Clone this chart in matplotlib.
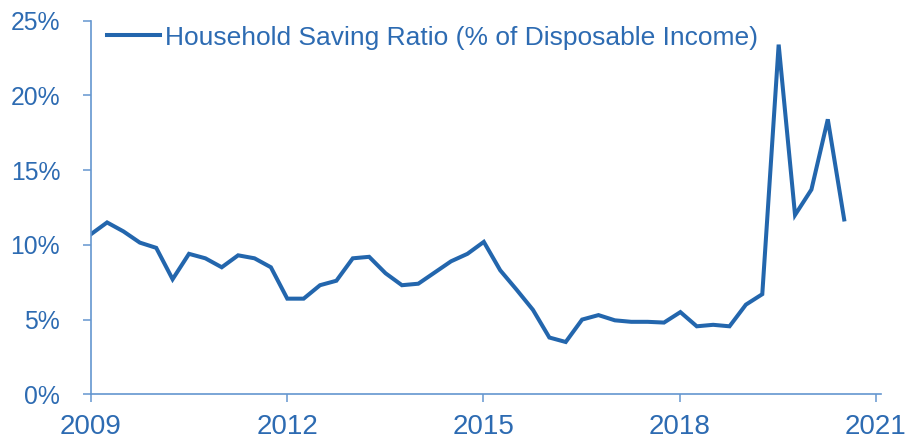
import matplotlib
matplotlib.use("Agg")
import matplotlib.pyplot as plt
import numpy as np

plt.rcParams['font.family'] = ['Liberation Sans', 'DejaVu Sans']

start_year = 2009.0
saving_ratio = [10.7, 11.5, 10.9, 10.15, 9.8, 7.7, 9.4, 9.1, 8.5, 9.3, 9.1, 8.5,
                6.4, 6.4, 7.3, 7.6, 9.1, 9.2, 8.1, 7.3, 7.4, 8.15, 8.9, 9.4,
                10.2, 8.3, 7.0, 5.65, 3.8, 3.5, 5.0, 5.3, 4.95, 4.85, 4.85, 4.8,
                5.5, 4.55, 4.65, 4.55, 6.0, 6.7, 23.4, 12.0, 13.7, 18.4, 11.7]
x_ticks = [2009, 2012, 2015, 2018, 2021]
y_ticks = [0, 5, 10, 15, 20, 25]
series_label = "Household Saving Ratio (% of Disposable Income)"

line_color = '#2366ad'
text_color = '#2d6bb2'
spine_color = '#6496cf'

W, H = 909, 441
fig = plt.figure(figsize=(W / 100, H / 100), dpi=100)
left, right = 90.7, 880.7
bottom, top = 394.3, 20.7
ax = fig.add_axes([left / W, 1 - bottom / H, (right - left) / W, (bottom - top) / H])

quarters = start_year + 0.2503 * np.arange(len(saving_ratio))
ax.plot(quarters, saving_ratio, color=line_color, lw=2.9, solid_joinstyle='miter',
        label=series_label)

px_per_year = (876 - 90.7) / 12
ax.set_xlim(2009, 2009 + (right - left) / px_per_year)
ax.set_ylim(0, 25)
ax.set_xticks(x_ticks)
ax.set_xticklabels([str(t) for t in x_ticks])
ax.set_yticks(y_ticks)
ax.set_yticklabels([f"{t}%" for t in y_ticks])

for s in ['top', 'right']:
    ax.spines[s].set_visible(False)
for s in ['left', 'bottom']:
    ax.spines[s].set_color(spine_color)
    ax.spines[s].set_linewidth(1.2)

ax.tick_params(axis='x', length=6, width=1.1, color=spine_color, labelcolor=text_color,
               labelsize=20, pad=8)
ax.tick_params(axis='y', length=6, width=1.1, color=spine_color, labelcolor=text_color,
               labelsize=17.8, pad=16)

fs = 19
fs_px = fs * 100 / 72
leg = ax.legend(loc='center left', bbox_to_anchor=(107 / W, 1 - 37.5 / H),
                bbox_transform=fig.transFigure, frameon=False, fontsize=fs,
                handlelength=53 / fs_px, handletextpad=5 / fs_px, borderpad=0,
                borderaxespad=0)
for t in leg.get_texts():
    t.set_color(text_color)

fig.savefig("out.png", dpi=100)
